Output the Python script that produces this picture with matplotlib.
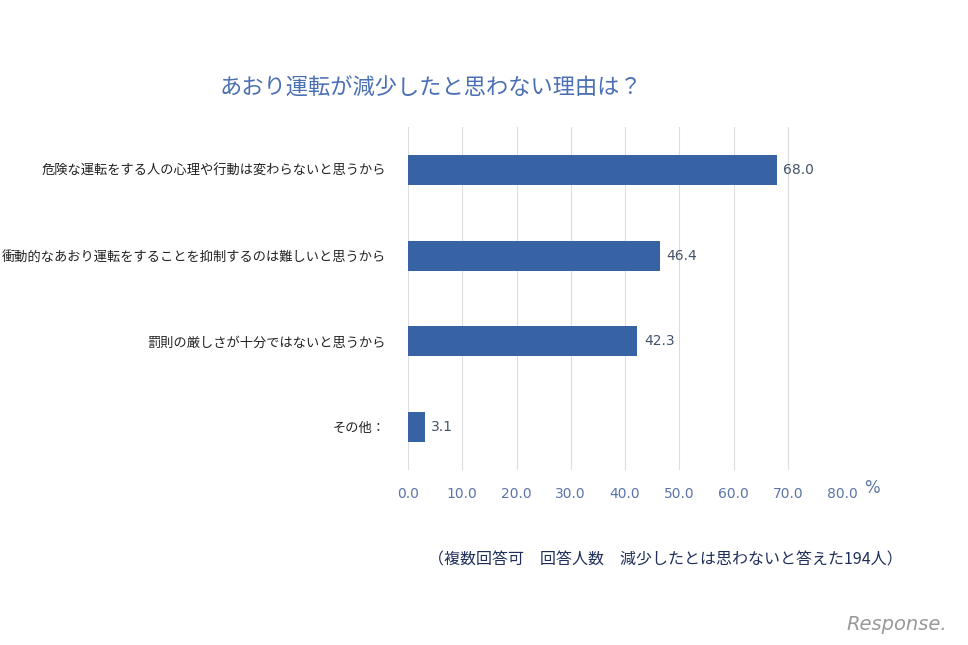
import matplotlib.pyplot as plt

plt.rcParams["font.family"] = "Noto Sans CJK JP"

# Data
categories = [
    "危険な運転をする人の心理や行動は変わらないと思うから",
    "衝動的なあおり運転をすることを抑制するのは難しいと思うから",
    "罰則の厳しさが十分ではないと思うから",
    "その他：",
]
values = [68.0, 46.4, 42.3, 3.1]
xticks = [0, 10, 20, 30, 40, 50, 60, 70, 80]

bar_color = "#3763A4"
tick_color = "#5B74A8"

fig = plt.figure(figsize=(9.68, 6.45), dpi=100)
ax = fig.add_axes([408 / 968, 1 - 470 / 645, (842 - 408) / 968, 343 / 645])

pos = list(range(len(categories)))
ax.barh(pos, values, height=0.35, color=bar_color, zorder=3)
for p, v in zip(pos, values):
    ax.text(v + 1.2, p, f"{v:.1f}", va="center", ha="left", fontsize=10,
            color="#44546A", fontfamily="DejaVu Sans")

ax.set_ylim(3.5, -0.5)
ax.set_xlim(0, 80)
ax.set_yticks(pos)
ax.set_yticklabels(categories, fontsize=9.5, color="#222222")
ax.set_xticks(xticks)
ax.set_xticklabels([f"{t:.1f}" for t in xticks], fontsize=10, color=tick_color,
                   fontfamily="DejaVu Sans")
ax.tick_params(length=0, pad=12)
ax.tick_params(axis="y", pad=16)
ax.grid(axis="x", color="#DDDDDD", linewidth=0.8, zorder=0)
for s in ax.spines.values():
    s.set_visible(False)

fig.text(872 / 968, 1 - 488 / 645, "%", fontsize=12, color=tick_color,
         ha="center", va="center", fontfamily="DejaVu Sans")
fig.text(431 / 968, 1 - 88 / 645, "あおり運転が減少したと思わない理由は？", fontsize=16,
         color="#4A6FB5", ha="center", va="center")
fig.text(665 / 968, 1 - 560 / 645,
         "（複数回答可　回答人数　減少したとは思わないと答えた194人）",
         fontsize=11.5, color="#1F2F5A", ha="center", va="center")
fig.text(897 / 968, 1 - 625 / 645, "Response.", fontsize=14, color="#999999",
         ha="center", va="center", style="italic", fontfamily="DejaVu Sans")

fig.savefig("out.png", dpi=100)
